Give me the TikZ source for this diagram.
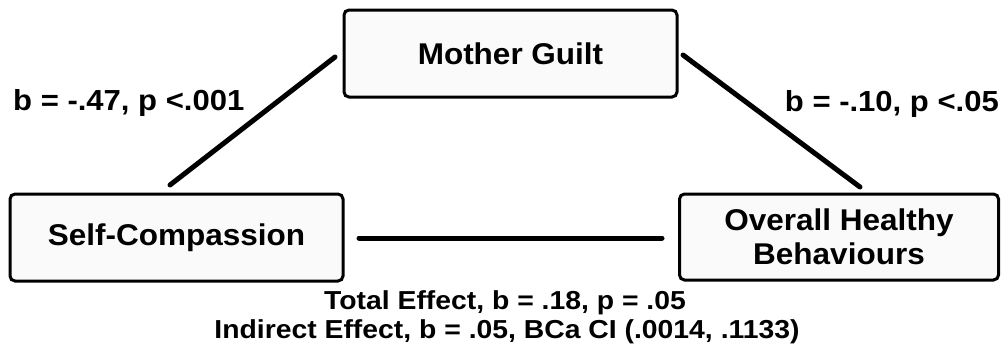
\documentclass[tikz,border=0pt]{standalone}
\usepackage{fontspec}
\setmainfont{Liberation Sans}
\begin{document}
\begin{tikzpicture}[x=1pt,y=-1pt,
  varbox/.style={draw=black, line width=3pt, rounded corners=5pt, fill=black!2, inner sep=0pt},
  boxtext/.style={font=\fontsize{30}{34}\selectfont\bfseries\addfontfeature{FakeStretch=1.05}, align=center},
  coef/.style={font=\fontsize{29}{33}\selectfont\bfseries\addfontfeature{FakeStretch=1.07}, inner sep=0pt},
  effect/.style={font=\fontsize{26}{29}\selectfont\bfseries\addfontfeature{FakeStretch=1.09}, anchor=base},
  path/.style={line width=5pt, line cap=round}]
\useasboundingbox (0,0) rectangle (1001,349);
% variable boxes
\node[varbox, minimum width=333pt, minimum height=87pt] (mg) at (510.5,53.5) {};
\node[varbox, minimum width=333pt, minimum height=87pt] (sc) at (176.5,237.5) {};
\node[varbox, minimum width=319pt, minimum height=86pt] (ohb) at (839,237) {};
\node[boxtext] (mgt) at (mg) {Mother Guilt};
\node[boxtext] (sct) at (sc) {Self-Compassion};
\node[boxtext] (ohbt) at (ohb) {Overall Healthy\\Behaviours};
% path end points
\coordinate (a1) at (170,185);
\coordinate (a2) at (335,57);
\coordinate (b1) at (683,55);
\coordinate (b2) at (860,187);
\coordinate (c1) at (359,238);
\coordinate (c2) at (662,238);
\draw[path] (a1) -- (a2);
\draw[path] (b1) -- (b2);
\draw[path] (c1) -- (c2);
% coefficients
\node[coef, anchor=base west] (la) at (13,110) {b = -.47, p <.001};
\node[coef, anchor=base east] (lb) at (999,111) {b = -.10, p <.05};
\node[effect] (tot) at (505,309) {Total Effect, b = .18, p = .05};
\node[effect] (ind) at (507,338) {Indirect Effect, b = .05, BCa CI (.0014, .1133)};
\end{tikzpicture}
\end{document}
